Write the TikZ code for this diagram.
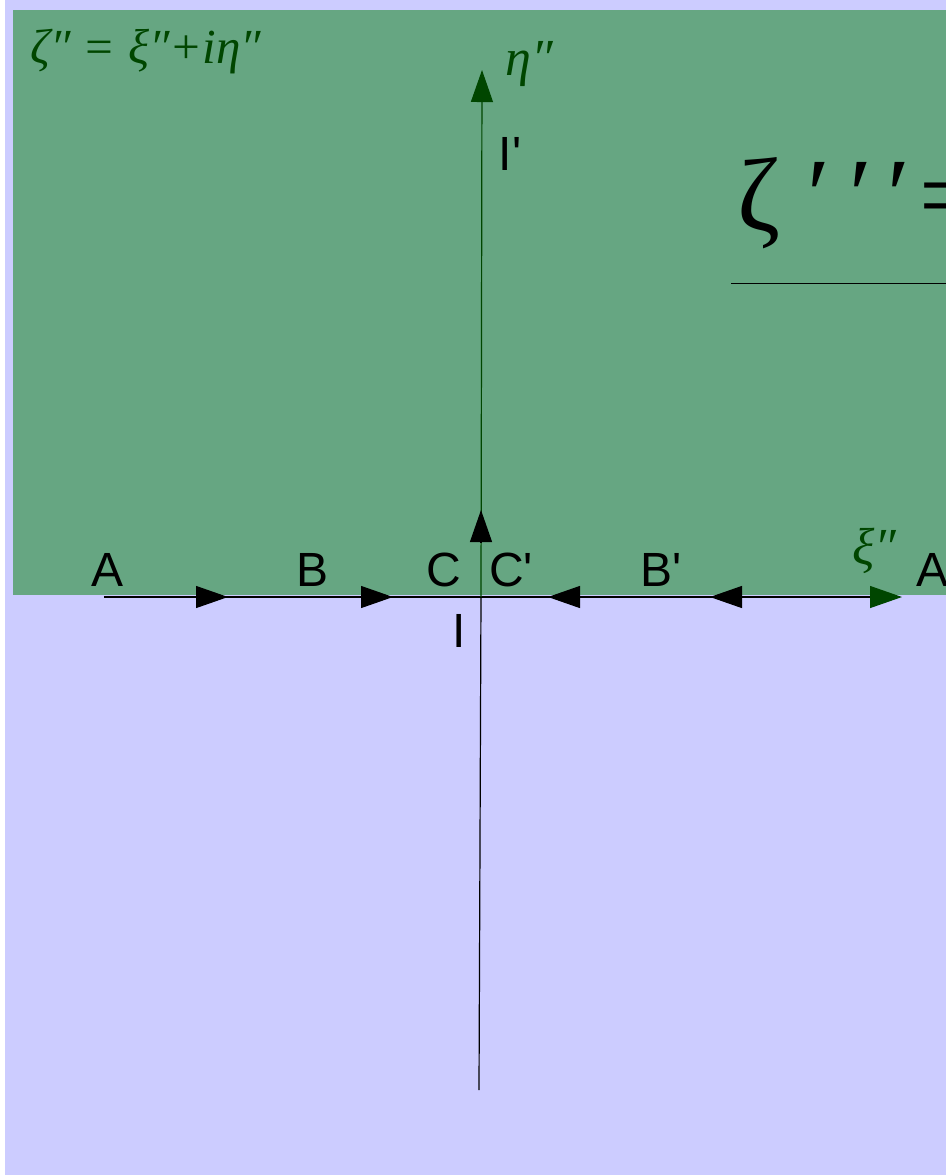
\documentclass[tikz,border=0pt]{standalone}
\usepackage{fontspec}
\setmainfont{Liberation Serif}
\setsansfont{Liberation Sans}
\usetikzlibrary{arrows.meta}

\definecolor{lavender}{RGB}{204,204,255}
\definecolor{planegreen}{RGB}{102,166,130}
\definecolor{darkgreen}{RGB}{0,70,0}

\tikzset{
  lbl/.style={font=\sffamily\fontsize{24}{28}\selectfont, inner sep=0pt, anchor=base},
  mathlbl/.style={font=\itshape\fontsize{26}{30}\selectfont, text=darkgreen, inner sep=0pt, anchor=base west},
  axis/.style={line width=0.6pt},
  tip/.style={-{Triangle[length=16pt,width=11pt]}}
}

\begin{document}
\begin{tikzpicture}[x=0.5pt,y=-0.5pt]
\useasboundingbox (0,0) rectangle (946,1175);
\clip (0,0) rectangle (946,1175);
% background and upper half-plane
\fill[white] (0,0) rectangle (946,1175);
\fill[lavender] (5,0) rectangle (946,1175);
\fill[planegreen] (13,10) rectangle (946,595);

% axes
\coordinate (o) at (481,597);
\coordinate (xl) at (104,597);
\coordinate (xr) at (902,597);
\coordinate (yb) at (479,1090);
\coordinate (yt) at (482,70);
\draw[axis] (xl) -- (o);
\draw[axis, -{Triangle[length=16pt,width=11pt,color=darkgreen]}] (o) -- (xr);
\draw[axis] (yb) -- (o);
\draw[axis, darkgreen, -{Triangle[length=16pt,width=11pt]}] (o) -- (yt);

% direction arrows on the contour
\foreach \s/\t in {195/228, 360/393, 582/548, 743/710}
  \draw[axis, tip] (\s,597) -- (\t,597);
\draw[axis, tip] (481,542) -- (481,510);

% point labels
\node[lbl] (A) at (108,586) {A};
\node[lbl] (B) at (313,586) {B};
\node[lbl] (C) at (444,586) {C};
\node[lbl] (Cp) at (511,586) {C\textquotesingle};
\node[lbl] (Bp) at (661,586) {B\textquotesingle};
\node[lbl] (Ar) at (933,586) {A};
\node[lbl] (I) at (459,647) {I};
\node[lbl] (Ip) at (510,170) {I\textquotesingle};

% variable names
\node[mathlbl, font=\itshape\fontsize{24.5}{28}\selectfont] (zeta) at (30,63) {ζ″ = ξ″+iη″};
\node[mathlbl] (eta) at (505,75) {η″};
\node[mathlbl] (xi) at (852,564) {ξ″};

% mapping formula (cut off at the right)
\node[font=\fontsize{52}{56}\selectfont, inner sep=0pt, anchor=base west] (map) at (737,230)
  {\makebox[35pt][l]{ζ}\makebox[21pt][l]{′}\makebox[19pt][l]{′}\makebox[16pt][l]{′}=};
\draw[line width=0.5pt] (731,283) -- (946,283);
\end{tikzpicture}
\end{document}
